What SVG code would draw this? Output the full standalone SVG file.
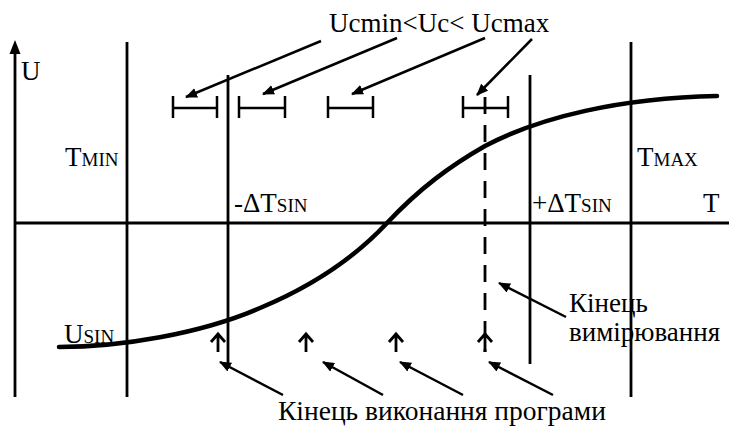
<svg xmlns="http://www.w3.org/2000/svg" width="729" height="426" viewBox="0 0 729 426">
<style>
.ln{stroke:#000;stroke-width:2.8;fill:none}
.th{stroke:#000;stroke-width:2.5;fill:none}
.cv{stroke:#000;stroke-width:4.5;fill:none;stroke-linecap:round}
.ar{stroke:#000;stroke-width:2.5;fill:none;marker-end:url(#ah)}
.up{stroke:#000;stroke-width:2.8;fill:none}
.t{font-family:"Liberation Serif","Times New Roman",serif;font-size:27px;fill:#000}
.sc{font-size:19px}
</style>
<defs>
<marker id="ah" viewBox="0 0 12 10" refX="11" refY="5" markerWidth="12" markerHeight="10" markerUnits="userSpaceOnUse" orient="auto">
<path d="M0,0 L12,5 L0,10 Z" fill="#000"/>
</marker>
<path id="uparrow" d="M0,19 V1 M-7,9 L0,1 L7,9"/>
</defs>
<g id="axes">
<line class="ln" x1="15" y1="52" x2="15" y2="397"/>
<path d="M15,40 L9.5,54 L20.5,54 Z" fill="#000"/>
<line class="ln" x1="15" y1="223" x2="729" y2="223"/>
</g>
<g id="t-min">
<line class="ln" x1="127" y1="42" x2="127" y2="397"/>
<text x="65" y="166" class="t">T<tspan class="sc">MIN</tspan></text>
</g>
<g id="t-max">
<line class="ln" x1="631" y1="42" x2="631" y2="397"/>
<text x="637" y="166" class="t">T<tspan class="sc">MAX</tspan></text>
</g>
<g id="minus-dtsin">
<line class="ln" x1="228" y1="75" x2="228" y2="364"/>
<text x="234" y="212" class="t">-ΔT<tspan class="sc">SIN</tspan></text>
</g>
<g id="plus-dtsin">
<line class="ln" x1="530" y1="75" x2="530" y2="364"/>
<text x="532" y="212" class="t">+ΔT<tspan class="sc">SIN</tspan></text>
</g>
<g id="end-measure-line">
<line class="ln" x1="485" y1="97" x2="485" y2="352" stroke-dasharray="17 11"/>
</g>
<g id="curve">
<path class="cv" d="M59,347 C120,347 200,334 260,308 C320,283 360,252 387,223 C420,188 450,166 485,146 C540,117 620,98 717,96"/>
</g>
<g id="intervals">
<path class="th" d="M173,96 V118 M217,96 V118 M173,108 H217"/>
<path class="th" d="M239,96 V118 M285,96 V118 M239,108 H285"/>
<path class="th" d="M328,96 V118 M373,96 V118 M328,108 H373"/>
<path class="th" d="M463,96 V118 M508,96 V118 M463,108 H508"/>
</g>
<g id="exec-ends">
<use href="#uparrow" class="up" x="218" y="333"/>
<use href="#uparrow" class="up" x="306" y="333"/>
<use href="#uparrow" class="up" x="396" y="333"/>
<use href="#uparrow" class="up" x="485" y="333"/>
</g>
<g id="labels">
<text x="21" y="80" class="t">U</text>
<text x="703" y="212" class="t">T</text>
<text x="64" y="343" class="t">U<tspan class="sc">SIN</tspan></text>
<text x="329" y="32" class="t">Ucmin&lt;Uc&lt; Ucmax</text>
<text x="569" y="312" class="t">Кінець</text>
<text x="569" y="341" class="t">вимірювання</text>
<text x="278" y="420" class="t" style="font-size:27.5px">Кінець виконання програми</text>
</g>
<g id="connectors">
<line class="ar" x1="321" y1="41" x2="186" y2="97"/>
<line class="ar" x1="397" y1="38" x2="263" y2="94"/>
<line class="ar" x1="485" y1="38" x2="352" y2="94"/>
<line class="ar" x1="532" y1="39" x2="477" y2="95"/>
<line class="ar" x1="566" y1="317" x2="499" y2="283"/>
<line class="ar" x1="283" y1="395" x2="220" y2="362"/>
<line class="ar" x1="383" y1="395" x2="323" y2="362"/>
<line class="ar" x1="463" y1="395" x2="400" y2="362"/>
<line class="ar" x1="553" y1="395" x2="489" y2="362"/>
</g>
</svg>
